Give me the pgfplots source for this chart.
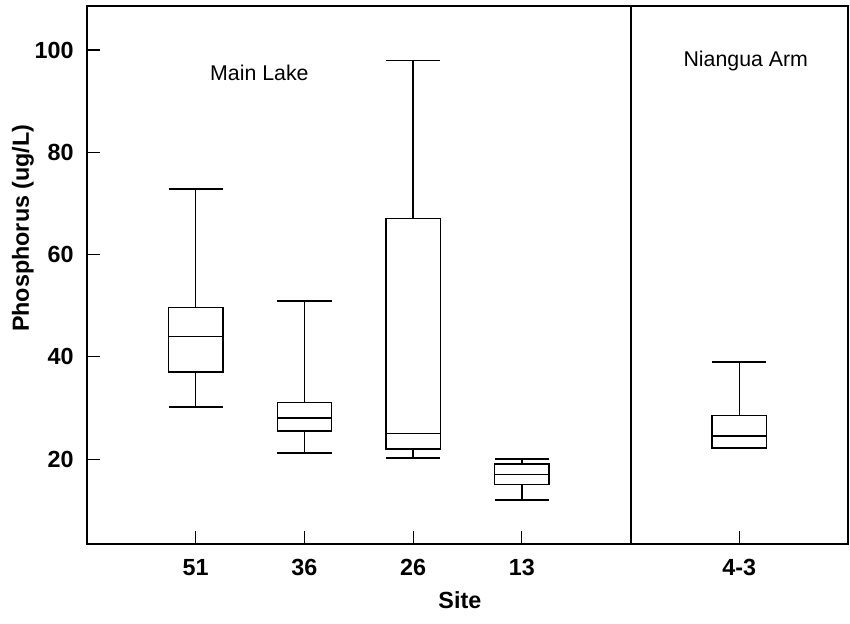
\documentclass[border=0pt]{standalone}
\usepackage{pgfplots}
\pgfplotsset{compat=1.18}
\usepgfplotslibrary{statistics}
\usepackage{fontspec}
\setmainfont{Liberation Sans}
\begin{document}
\begin{tikzpicture}
\begin{axis}[
  scale only axis,
  width=570.75pt, height=403.5pt,
  xmin=0, xmax=7, ymin=3.4, ymax=108.6,
  xtick={1,2,3,4,6},
  xticklabels={51,36,26,13,4-3},
  ytick={20,40,60,80,100},
  tick align=inside,
  xtick pos=bottom, ytick pos=left,
  major tick length=9.75pt,
  axis line style={line width=1.6pt},
  every tick/.style={black, line width=0.8pt},
  /pgf/number format/assume math mode=true,
  ticklabel style={font=\bfseries\fontsize{17.5}{20}\selectfont},
  xticklabel style={yshift=-8pt},
  yticklabel style={xshift=-6.5pt},
  xlabel={Site},
  ylabel={Phosphorus (ug/L)},
  label style={font=\bfseries\fontsize{17.5}{20}\selectfont},
  xlabel style={at={(axis description cs:0.49,-0.104)}, anchor=center},
  ylabel style={at={(axis description cs:-0.0841,0.587)}, anchor=center},
  clip=false,
  boxplot/draw direction=y,
]
\addplot[black, line width=1.1pt, boxplot prepared={draw position=1, box extend=0.5, whisker extend=0.5,
  lower whisker=30.2, lower quartile=37, median=44, upper quartile=49.6, upper whisker=72.8}] coordinates {};
\addplot[black, line width=1.1pt, boxplot prepared={draw position=2, box extend=0.5, whisker extend=0.5,
  lower whisker=21.2, lower quartile=25.5, median=28, upper quartile=31.1, upper whisker=50.9}] coordinates {};
\addplot[black, line width=1.1pt, boxplot prepared={draw position=3, box extend=0.5, whisker extend=0.5,
  lower whisker=20.2, lower quartile=22, median=25, upper quartile=67, upper whisker=97.9}] coordinates {};
\addplot[black, line width=1.1pt, boxplot prepared={draw position=4, box extend=0.5, whisker extend=0.5,
  lower whisker=12, lower quartile=15, median=17, upper quartile=19, upper whisker=20}] coordinates {};
\addplot[black, line width=1.1pt, boxplot prepared={draw position=6, box extend=0.5, whisker extend=0.5,
  lower whisker=22.2, lower quartile=22.1, median=24.5, upper quartile=28.5, upper whisker=39}] coordinates {};
\addplot[black, line width=1.6pt, no marks] coordinates {(5,3.4) (5,108.6)};
\node[font=\fontsize{16}{18}\selectfont] at (axis cs:1.586,95.6) {Main Lake};
\node[font=\fontsize{16}{18}\selectfont] at (axis cs:6.06,97.9) {Niangua Arm};
\end{axis}
\path (current axis.south west) ++(-65.25pt,-60pt) coordinate (bl);
\path (current axis.north east) ++(1.5pt,4.5pt) coordinate (tr);
\path (bl) rectangle (tr);
\end{tikzpicture}
\end{document}
